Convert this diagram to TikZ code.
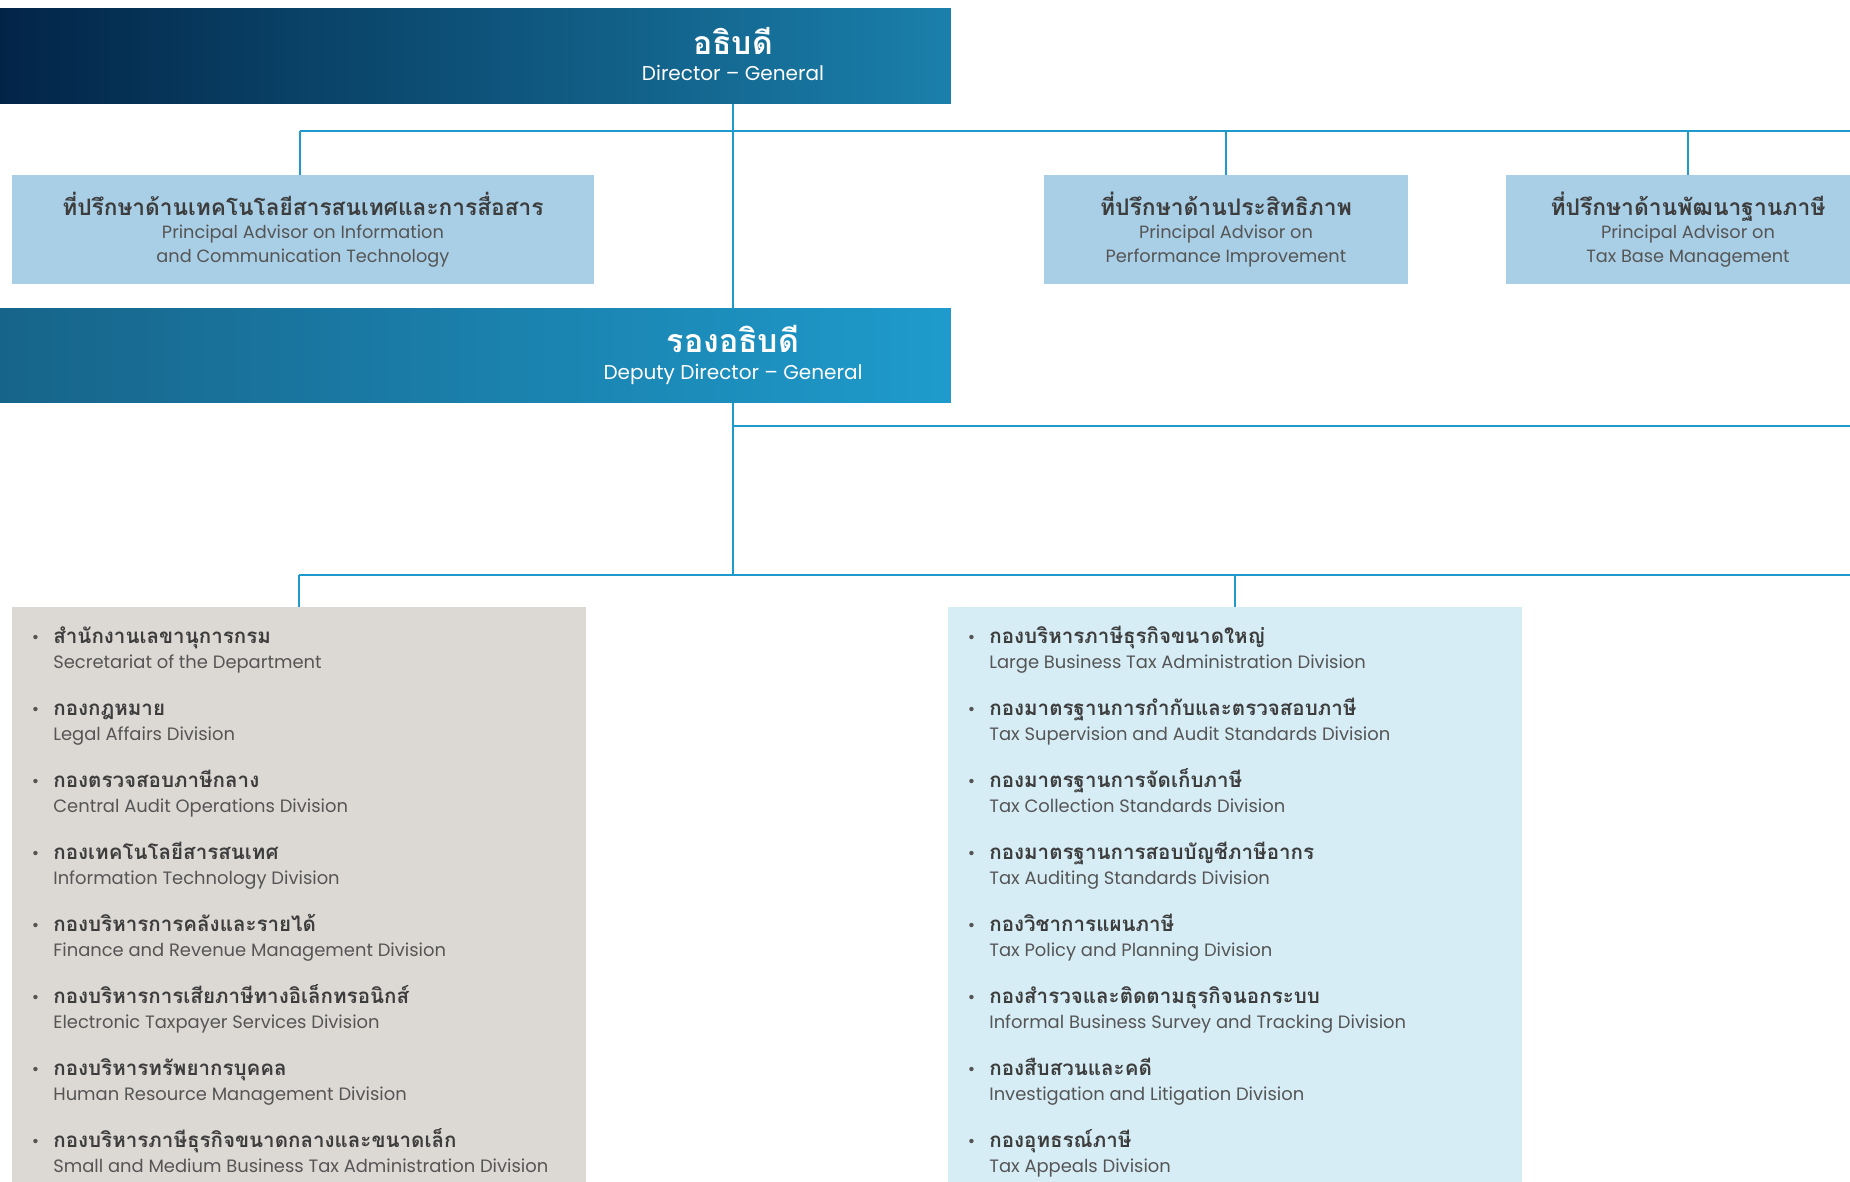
\documentclass[tikz,border=0pt]{standalone}
\usepackage{fontspec}
\setmainfont{Poppins}
\newfontfamily\thf[Script=Thai]{Loma}
\setlength{\lineskiplimit}{-50pt}

\definecolor{navy}{HTML}{022447}
\definecolor{navymid}{HTML}{0C476C}
\definecolor{navyend}{HTML}{1A80AB}
\definecolor{depleft}{HTML}{17648A}
\definecolor{depmid}{HTML}{1689BC}
\definecolor{depright}{HTML}{1E9BCC}
\definecolor{advfill}{HTML}{A9CFE7}
\definecolor{greybox}{HTML}{DCD9D5}
\definecolor{paleblue}{HTML}{D6EDF5}
\definecolor{linkblue}{HTML}{1E9BCC}
\definecolor{thaigrey}{HTML}{3D3D3D}
\definecolor{engrey}{HTML}{555555}

\begin{document}
\begin{tikzpicture}
  [x=0.02cm,y=-0.02cm,
   box/.style={rectangle,inner sep=0pt,outer sep=0pt,anchor=north west},
   advbox/.style={box,fill=advfill,minimum height=2.18cm,align=center,
     text=engrey,font=\fontsize{10.1}{13.4}\selectfont},
   listbox/.style={box,minimum width=11.48cm,minimum height=11.7cm},
   head/.style={align=center,text=white,inner sep=0pt,font=\fontsize{11.4}{16}\selectfont},
   item/.style={anchor=base west,align=left,inner sep=0pt,text=engrey,
     font=\fontsize{10.2}{14.2}\selectfont},
   hline/.style={draw=linkblue,line width=1.7pt},
   vline/.style={draw=linkblue,line width=1.2pt}]

  \useasboundingbox (0,0) rectangle (1850,1182);
  \clip (0,0) rectangle (1850,1182);

  % top of the chart
  \node[box,minimum width=19.02cm,minimum height=1.9cm,
    left color=navy,middle color=navymid,right color=navyend] (dir) at (0,9) {};
  \node[head] (dirlbl) at (733,54)
    {{\thf\bfseries\fontsize{18.2}{20}\selectfont อธิบดี}\\[-1pt] Director – General};

  \node[advbox,minimum width=11.64cm] (adv1) at (12,175)
    {{\thf\bfseries\color{thaigrey}\fontsize{12.9}{17}\selectfont ที่ปรึกษาด้านเทคโนโลยีสารสนเทศและการสื่อสาร}\\
     Principal Advisor on Information\\ and Communication Technology};
  \node[advbox,minimum width=7.28cm] (adv2) at (1044,175)
    {{\thf\bfseries\color{thaigrey}\fontsize{13}{17}\selectfont ที่ปรึกษาด้านประสิทธิภาพ}\\
     Principal Advisor on\\ Performance Improvement};
  \node[advbox,minimum width=7.28cm] (adv3) at (1506,175)
    {{\thf\bfseries\color{thaigrey}\fontsize{13}{17}\selectfont ที่ปรึกษาด้านพัฒนาฐานภาษี}\\
     Principal Advisor on\\ Tax Base Management};

  \node[box,minimum width=19.02cm,minimum height=1.88cm,
    left color=depleft,middle color=depmid,right color=depright] (dep) at (0,309) {};
  \node[head] (deplbl) at (733,355)
    {{\thf\bfseries\fontsize{18.3}{20}\selectfont รองอธิบดี}\\[-1pt] Deputy Director – General};

  % the two groups of divisions
  \node[listbox,fill=greybox] (grp1) at (12,607) {};
  \node[listbox,fill=paleblue] (grp2) at (948,607) {};

  \coordinate (bar1) at (1850,131);
  \coordinate (bar2) at (1850,426);
  \coordinate (bar3) at (1850,575);

  \draw[vline] (dir.south -| dirlbl) -- (dep.north -| dirlbl);
  \draw[hline] ([xshift=-0.06cm]adv1.north |- bar1) -- (bar1);
  \draw[vline] ([xshift=-0.06cm]adv1.north |- bar1) -- ([xshift=-0.06cm]adv1.north);
  \draw[vline] (adv2.north |- bar1) -- (adv2.north);
  \draw[vline] (adv3.north |- bar1) -- (adv3.north);
  \draw[vline] (dep.south -| deplbl) -- (deplbl |- bar3);
  \draw[hline] (deplbl |- bar2) -- (bar2);
  \draw[hline] (grp1.north |- bar3) -- (bar3);
  \draw[vline] (grp1.north |- bar3) -- (grp1.north);
  \draw[vline] (grp2.north |- bar3) -- (grp2.north);

  % left list
  \node[item] (g1) at (53,668) {\llap{•\hspace{8pt}}{\thf\bfseries\color{thaigrey}\fontsize{11.7}{14}\selectfont สำนักงานเลขานุการกรม}\\ Secretariat of the Department};
  \node[item] (g2) at (53,740) {\llap{•\hspace{8pt}}{\thf\bfseries\color{thaigrey}\fontsize{11.7}{14}\selectfont กองกฎหมาย}\\ Legal Affairs Division};
  \node[item] (g3) at (53,812) {\llap{•\hspace{8pt}}{\thf\bfseries\color{thaigrey}\fontsize{11.7}{14}\selectfont กองตรวจสอบภาษีกลาง}\\ Central Audit Operations Division};
  \node[item] (g4) at (53,884) {\llap{•\hspace{8pt}}{\thf\bfseries\color{thaigrey}\fontsize{11.7}{14}\selectfont กองเทคโนโลยีสารสนเทศ}\\ Information Technology Division};
  \node[item] (g5) at (53,956) {\llap{•\hspace{8pt}}{\thf\bfseries\color{thaigrey}\fontsize{11.7}{14}\selectfont กองบริหารการคลังและรายได้}\\ Finance and Revenue Management Division};
  \node[item] (g6) at (53,1028) {\llap{•\hspace{8pt}}{\thf\bfseries\color{thaigrey}\fontsize{11.7}{14}\selectfont กองบริหารการเสียภาษีทางอิเล็กทรอนิกส์}\\ Electronic Taxpayer Services Division};
  \node[item] (g7) at (53,1100) {\llap{•\hspace{8pt}}{\thf\bfseries\color{thaigrey}\fontsize{11.7}{14}\selectfont กองบริหารทรัพยากรบุคคล}\\ Human Resource Management Division};
  \node[item] (g8) at (53,1172) {\llap{•\hspace{8pt}}{\thf\bfseries\color{thaigrey}\fontsize{11.7}{14}\selectfont กองบริหารภาษีธุรกิจขนาดกลางและขนาดเล็ก}\\ Small and Medium Business Tax Administration Division};

  % right list
  \node[item] (b1) at (989,668) {\llap{•\hspace{8pt}}{\thf\bfseries\color{thaigrey}\fontsize{11.7}{14}\selectfont กองบริหารภาษีธุรกิจขนาดใหญ่}\\ Large Business Tax Administration Division};
  \node[item] (b2) at (989,740) {\llap{•\hspace{8pt}}{\thf\bfseries\color{thaigrey}\fontsize{11.7}{14}\selectfont กองมาตรฐานการกำกับและตรวจสอบภาษี}\\ Tax Supervision and Audit Standards Division};
  \node[item] (b3) at (989,812) {\llap{•\hspace{8pt}}{\thf\bfseries\color{thaigrey}\fontsize{11.7}{14}\selectfont กองมาตรฐานการจัดเก็บภาษี}\\ Tax Collection Standards Division};
  \node[item] (b4) at (989,884) {\llap{•\hspace{8pt}}{\thf\bfseries\color{thaigrey}\fontsize{11.7}{14}\selectfont กองมาตรฐานการสอบบัญชีภาษีอากร}\\ Tax Auditing Standards Division};
  \node[item] (b5) at (989,956) {\llap{•\hspace{8pt}}{\thf\bfseries\color{thaigrey}\fontsize{11.7}{14}\selectfont กองวิชาการแผนภาษี}\\ Tax Policy and Planning Division};
  \node[item] (b6) at (989,1028) {\llap{•\hspace{8pt}}{\thf\bfseries\color{thaigrey}\fontsize{11.7}{14}\selectfont กองสำรวจและติดตามธุรกิจนอกระบบ}\\ Informal Business Survey and Tracking Division};
  \node[item] (b7) at (989,1100) {\llap{•\hspace{8pt}}{\thf\bfseries\color{thaigrey}\fontsize{11.7}{14}\selectfont กองสืบสวนและคดี}\\ Investigation and Litigation Division};
  \node[item] (b8) at (989,1172) {\llap{•\hspace{8pt}}{\thf\bfseries\color{thaigrey}\fontsize{11.7}{14}\selectfont กองอุทธรณ์ภาษี}\\ Tax Appeals Division};

\end{tikzpicture}
\end{document}
